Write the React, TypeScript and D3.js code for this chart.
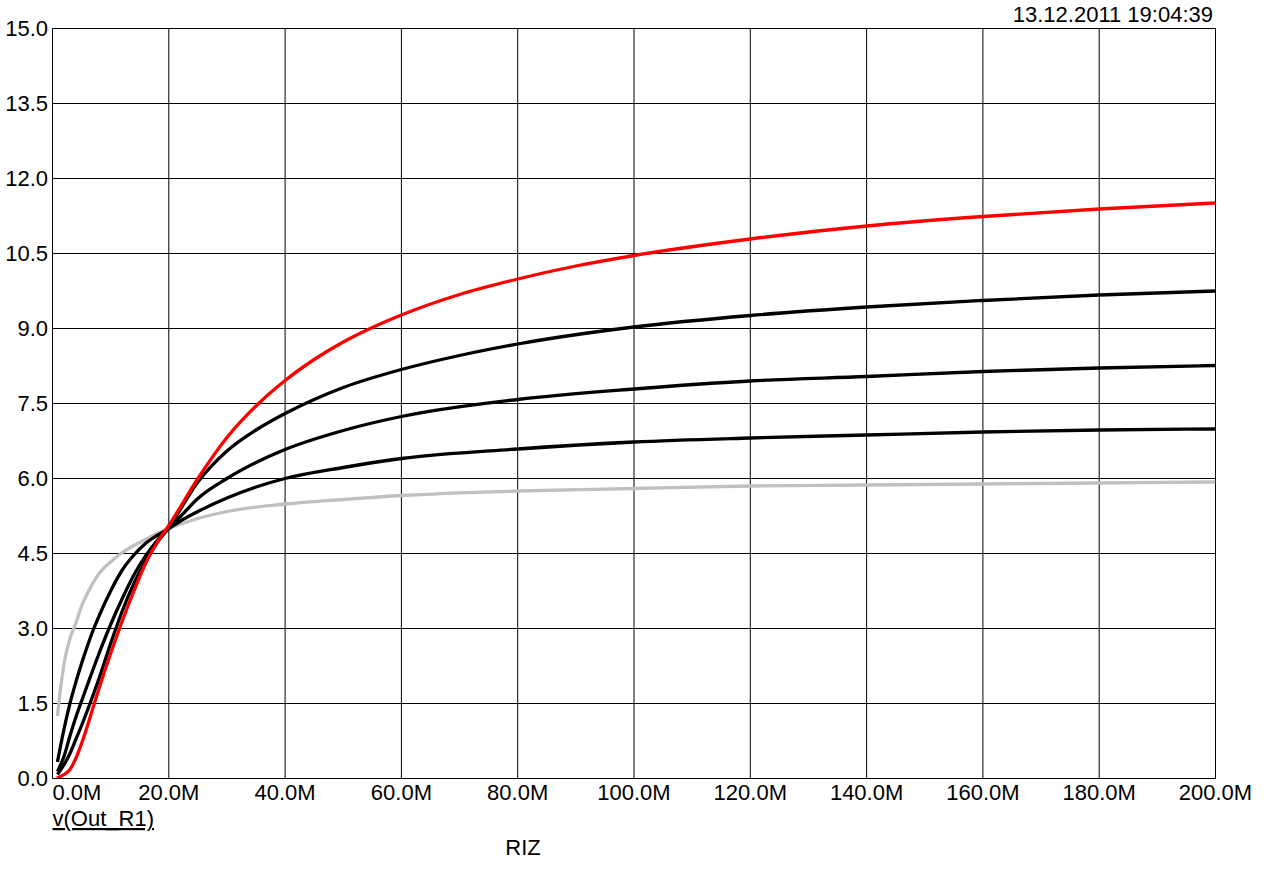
import React from "react";
import * as d3 from "d3";

// sweep of RIZ in megohms, one array per trace
const grayX = [0.85, 1.5, 2, 3, 4, 5, 6, 8, 10, 12, 14, 16, 18, 20, 25, 30, 40, 50, 60, 80, 100, 120, 140, 160, 180, 200];
const grayY = [1.25, 1.9, 2.3, 2.8, 3.1, 3.45, 3.7, 4.1, 4.33, 4.52, 4.66, 4.78, 4.9, 5.0, 5.2, 5.34, 5.49, 5.58, 5.66, 5.75, 5.8, 5.85, 5.87, 5.89, 5.91, 5.93];

const black3X = [0.85, 2, 3, 4, 5, 6, 7, 8, 10, 12, 14, 16, 18, 20, 22, 25, 30, 35, 40, 50, 60, 80, 100, 120, 140, 160, 180, 200];
const black3Y = [0.33, 1.0, 1.5, 1.92, 2.3, 2.65, 2.97, 3.25, 3.75, 4.17, 4.47, 4.7, 4.86, 5.0, 5.15, 5.34, 5.61, 5.83, 6.0, 6.22, 6.4, 6.59, 6.73, 6.81, 6.87, 6.93, 6.97, 6.99];

const black2X = [0.85, 2, 3, 4, 5, 6, 8, 10, 12, 14, 16, 18, 20, 22, 25, 30, 35, 40, 50, 60, 80, 100, 120, 140, 160, 180, 200];
const black2Y = [0.14, 0.45, 0.85, 1.22, 1.55, 1.87, 2.5, 3.08, 3.6, 4.07, 4.45, 4.76, 5.0, 5.24, 5.6, 6.0, 6.32, 6.58, 6.96, 7.24, 7.58, 7.79, 7.95, 8.04, 8.14, 8.21, 8.26];

const black1X = [0.85, 2, 3, 4, 5, 6, 8, 10, 12, 14, 16, 18, 20, 25, 30, 35, 40, 45, 50, 60, 70, 80, 100, 120, 140, 160, 180, 200];
const black1Y = [0.08, 0.28, 0.5, 0.78, 1.06, 1.36, 2.0, 2.7, 3.35, 3.9, 4.35, 4.72, 5.02, 5.93, 6.55, 6.97, 7.3, 7.58, 7.82, 8.18, 8.46, 8.69, 9.03, 9.26, 9.43, 9.56, 9.67, 9.75];

const redX = [0.75, 2, 3, 4, 5, 6, 7, 8, 10, 12, 14, 16, 18, 20, 25, 30, 35, 40, 45, 50, 55, 60, 70, 80, 90, 100, 120, 140, 160, 180, 200];
const redY = [0.01, 0.08, 0.18, 0.4, 0.7, 1.05, 1.43, 1.8, 2.5, 3.15, 3.75, 4.3, 4.72, 5.06, 6.0, 6.82, 7.45, 7.96, 8.38, 8.73, 9.02, 9.27, 9.68, 9.99, 10.25, 10.46, 10.79, 11.05, 11.24, 11.39, 11.51];

const xTicks = [0, 20, 40, 60, 80, 100, 120, 140, 160, 180, 200];
const yTicks = [0, 1.5, 3, 4.5, 6, 7.5, 9, 10.5, 12, 13.5, 15];

const traces = [
  { xs: grayX, ys: grayY, color: "#c0c0c0" },
  { xs: black3X, ys: black3Y, color: "#000000" },
  { xs: black2X, ys: black2Y, color: "#000000" },
  { xs: black1X, ys: black1Y, color: "#000000" },
  { xs: redX, ys: redY, color: "#ff0000" },
];

const W = 1276;
const H = 870;
const left = 52.5;
const right = 1215.5;
const top = 28.5;
const bottom = 778.5;

export default function App() {
  const x = d3.scaleLinear().domain([0, 200]).range([left, right]);
  const y = d3.scaleLinear().domain([0, 15]).range([bottom, top]);
  const line = d3
    .line<[number, number]>()
    .x((d) => x(d[0]))
    .y((d) => y(d[1]))
    .curve(d3.curveMonotoneX);

  const font = "'Liberation Sans', Arial, sans-serif";

  return (
    <div style={{ position: "absolute", left: 0, top: 0 }}>
      <svg width={W} height={H} style={{ display: "block", background: "#fff" }}>
        <defs>
          <clipPath id="plot">
            <rect x={left} y={top - 2} width={right - left} height={bottom - top + 2} />
          </clipPath>
        </defs>
        {/* grid */}
        {xTicks.map((t) => (
          <line key={"gx" + t} x1={x(t)} x2={x(t)} y1={top} y2={bottom} stroke="#000" strokeWidth={1} />
        ))}
        {yTicks.map((t) => (
          <line key={"gy" + t} x1={left} x2={right} y1={y(t)} y2={y(t)} stroke="#000" strokeWidth={1} />
        ))}
        {/* traces */}
        <g clipPath="url(#plot)">
          {traces.map((tr, i) => (
            <path
              key={i}
              d={line(tr.xs.map((v, j) => [v, tr.ys[j]] as [number, number])) || ""}
              fill="none"
              stroke={tr.color}
              strokeWidth={3.3}
              strokeLinejoin="round"
            />
          ))}
        </g>
        {/* y tick labels */}
        {yTicks.map((t) => (
          <text key={"ly" + t} x={48} y={y(t)} dy="0.36em" textAnchor="end" fontFamily={font} fontSize={22} fill="#000">
            {t.toFixed(1)}
          </text>
        ))}
        {/* x tick labels */}
        {xTicks.map((t, i) => (
          <text
            key={"lx" + t}
            x={i === 0 ? left : x(t)}
            y={800}
            textAnchor={i === 0 ? "start" : "middle"}
            fontFamily={font}
            fontSize={22}
            fill="#000"
          >
            {t.toFixed(1) + "M"}
          </text>
        ))}
        <text x={left} y={826} fontFamily={font} fontSize={22} fill="#000" textDecoration="underline">
          v(Out_R1)
        </text>
        <text x={523} y={855} textAnchor="middle" fontFamily={font} fontSize={22} fill="#000">
          RIZ
        </text>
        <text x={1213} y={22} textAnchor="end" fontFamily={font} fontSize={22} fill="#000">
          13.12.2011 19:04:39
        </text>
      </svg>
    </div>
  );
}
